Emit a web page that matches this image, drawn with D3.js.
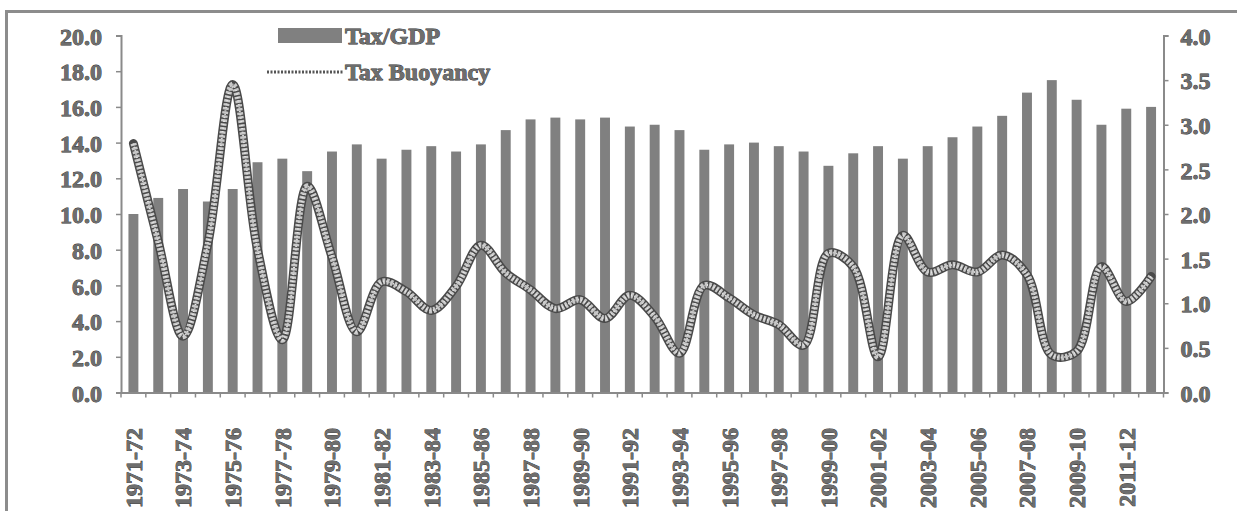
<!DOCTYPE html>
<html>
<head>
<meta charset="utf-8">
<script src="https://cdn.jsdelivr.net/npm/d3@7/dist/d3.min.js"></script>
<style>
  html, body { margin: 0; padding: 0; background: #fff; }
  svg { display: block; }
  .t { font-family: "Liberation Serif", "DejaVu Serif", serif; font-weight: bold; fill: #6e6e6e; stroke: #2a2a2a; stroke-width: 0.8px; paint-order: stroke; }
</style>
</head>
<body>
<svg id="chart" width="1237" height="511"></svg>
<script>
const categories = ["1971-72","1972-73","1973-74","1974-75","1975-76","1976-77","1977-78","1978-79","1979-80","1980-81",
  "1981-82","1982-83","1983-84","1984-85","1985-86","1986-87","1987-88","1988-89","1989-90","1990-91",
  "1991-92","1992-93","1993-94","1994-95","1995-96","1996-97","1997-98","1998-99","1999-00","2000-01",
  "2001-02","2002-03","2003-04","2004-05","2005-06","2006-07","2007-08","2008-09","2009-10","2010-11",
  "2011-12","2012-13"];
const taxGDP = [10.0, 10.9, 11.4, 10.7, 11.4, 12.9, 13.1, 12.4, 13.5, 13.9,
  13.1, 13.6, 13.8, 13.5, 13.9, 14.7, 15.3, 15.4, 15.3, 15.4,
  14.9, 15.0, 14.7, 13.6, 13.9, 14.0, 13.8, 13.5, 12.7, 13.4,
  13.8, 13.1, 13.8, 14.3, 14.9, 15.5, 16.8, 17.5, 16.4, 15.0,
  15.9, 16.0];
const taxBuoyancy = [2.79, 1.69, 0.63, 1.67, 3.45, 1.60, 0.59, 2.31, 1.52, 0.68,
  1.24, 1.13, 0.92, 1.19, 1.65, 1.34, 1.15, 0.94, 1.04, 0.83,
  1.09, 0.85, 0.44, 1.20, 1.06, 0.87, 0.76, 0.53, 1.56, 1.41,
  0.40, 1.76, 1.35, 1.43, 1.35, 1.54, 1.32, 0.42, 0.46, 1.41,
  1.02, 1.30];
const leftTicks = [0, 2, 4, 6, 8, 10, 12, 14, 16, 18, 20];
const rightTicks = [0, 0.5, 1.0, 1.5, 2.0, 2.5, 3.0, 3.5, 4.0];
const seriesNames = ["Tax/GDP", "Tax Buoyancy"];

const svg = d3.select("#chart");
const axisColor = "#8a8a8a";
const barColor = "#808080";

// frame
svg.append("path")
  .attr("d", "M6.5,515 L6.5,11.5 L1240,11.5")
  .attr("fill", "none").attr("stroke", "#8c8c8c").attr("stroke-width", 3);

const x = d3.scaleBand().domain(categories).range([121, 1163.5]).padding(0);
const yL = d3.scaleLinear().domain([0, 20]).range([392.5, 35.5]);
const yR = d3.scaleLinear().domain([0, 4]).range([392.5, 35.5]);
const bw = x.bandwidth();

// bars
svg.append("g").selectAll("rect").data(categories).join("rect")
  .attr("x", (d) => x(d) + bw * 0.3)
  .attr("width", bw * 0.4)
  .attr("y", (d, i) => yL(taxGDP[i]))
  .attr("height", (d, i) => yL(0) - yL(taxGDP[i]))
  .attr("fill", barColor);

// left axis
const gL = svg.append("g").attr("transform", "translate(121,0)")
  .call(d3.axisLeft(yL).tickValues(leftTicks).tickFormat(d3.format(".1f")).tickSize(5).tickPadding(14));
gL.select(".domain").attr("stroke", axisColor).attr("stroke-width", 2);
gL.selectAll(".tick line").attr("stroke", axisColor).attr("stroke-width", 1.5);
gL.selectAll(".tick text").attr("class", "t").style("font-size", "24px").attr("dy", "0.36em");

// right axis
const gR = svg.append("g").attr("transform", "translate(1163.5,0)")
  .call(d3.axisRight(yR).tickValues(rightTicks).tickFormat(d3.format(".1f")).tickSize(5).tickPadding(12));
gR.select(".domain").attr("stroke", axisColor).attr("stroke-width", 2);
gR.selectAll(".tick line").attr("stroke", axisColor).attr("stroke-width", 1.5);
gR.selectAll(".tick text").attr("class", "t").style("font-size", "24px").attr("dy", "0.36em");

// x axis
const gX = svg.append("g").attr("transform", "translate(0,392.5)")
  .call(d3.axisBottom(x).tickSize(0).tickFormat(""));
gX.select(".domain").attr("stroke", axisColor).attr("stroke-width", 2);
gX.append("g").selectAll("line").data(categories.concat(["__end"])).join("line")
  .attr("x1", (d, i) => i < categories.length ? x(d) : x(categories[categories.length - 1]) + bw)
  .attr("x2", (d, i) => i < categories.length ? x(d) : x(categories[categories.length - 1]) + bw)
  .attr("y1", 0).attr("y2", 5)
  .attr("stroke", axisColor).attr("stroke-width", 1.5);

// x labels (every other category)
svg.append("g").selectAll("text")
  .data(categories.filter((d, i) => i % 2 === 0)).join("text")
  .attr("class", "t")
  .attr("transform", (d) => `translate(${x(d) + bw / 2},428) rotate(-90)`)
  .attr("text-anchor", "end")
  .attr("dy", "0.35em")
  .style("font-size", "24px")
  .text((d) => d);

// line
const line = d3.line()
  .x((d, i) => x(categories[i]) + bw / 2)
  .y((d) => yR(d))
  .curve(d3.curveCatmullRom.alpha(0.5));
const lg = svg.append("g");
lg.append("path").datum(taxBuoyancy).attr("d", line)
  .attr("fill", "none").attr("stroke", "#4a4a4a").attr("stroke-width", 9)
  .attr("stroke-linejoin", "round").attr("stroke-linecap", "round");
lg.append("path").datum(taxBuoyancy).attr("d", line)
  .attr("fill", "none").attr("stroke", "#c8c8c8").attr("stroke-width", 6)
  .attr("stroke-dasharray", "2.5 1.5")
  .attr("stroke-linejoin", "round");
lg.append("path").datum(taxBuoyancy).attr("d", line)
  .attr("fill", "none").attr("stroke", "#e6e6e6").attr("stroke-width", 2)
  .attr("stroke-dasharray", "1 2.5")
  .attr("stroke-linejoin", "round");

// legend
const leg = svg.append("g");
leg.append("rect").attr("x", 278).attr("y", 28).attr("width", 64).attr("height", 15).attr("fill", barColor);
leg.append("text").attr("class", "t").attr("x", 345).attr("y", 44).style("font-size", "24px").text(seriesNames[0]);
leg.append("line").attr("x1", 267).attr("x2", 343).attr("y1", 72).attr("y2", 72)
  .attr("stroke", "#555").attr("stroke-width", 3).attr("stroke-dasharray", "2 1.5");
leg.append("text").attr("class", "t").attr("x", 345).attr("y", 80).style("font-size", "24px").text(seriesNames[1]);
</script>
</body>
</html>
